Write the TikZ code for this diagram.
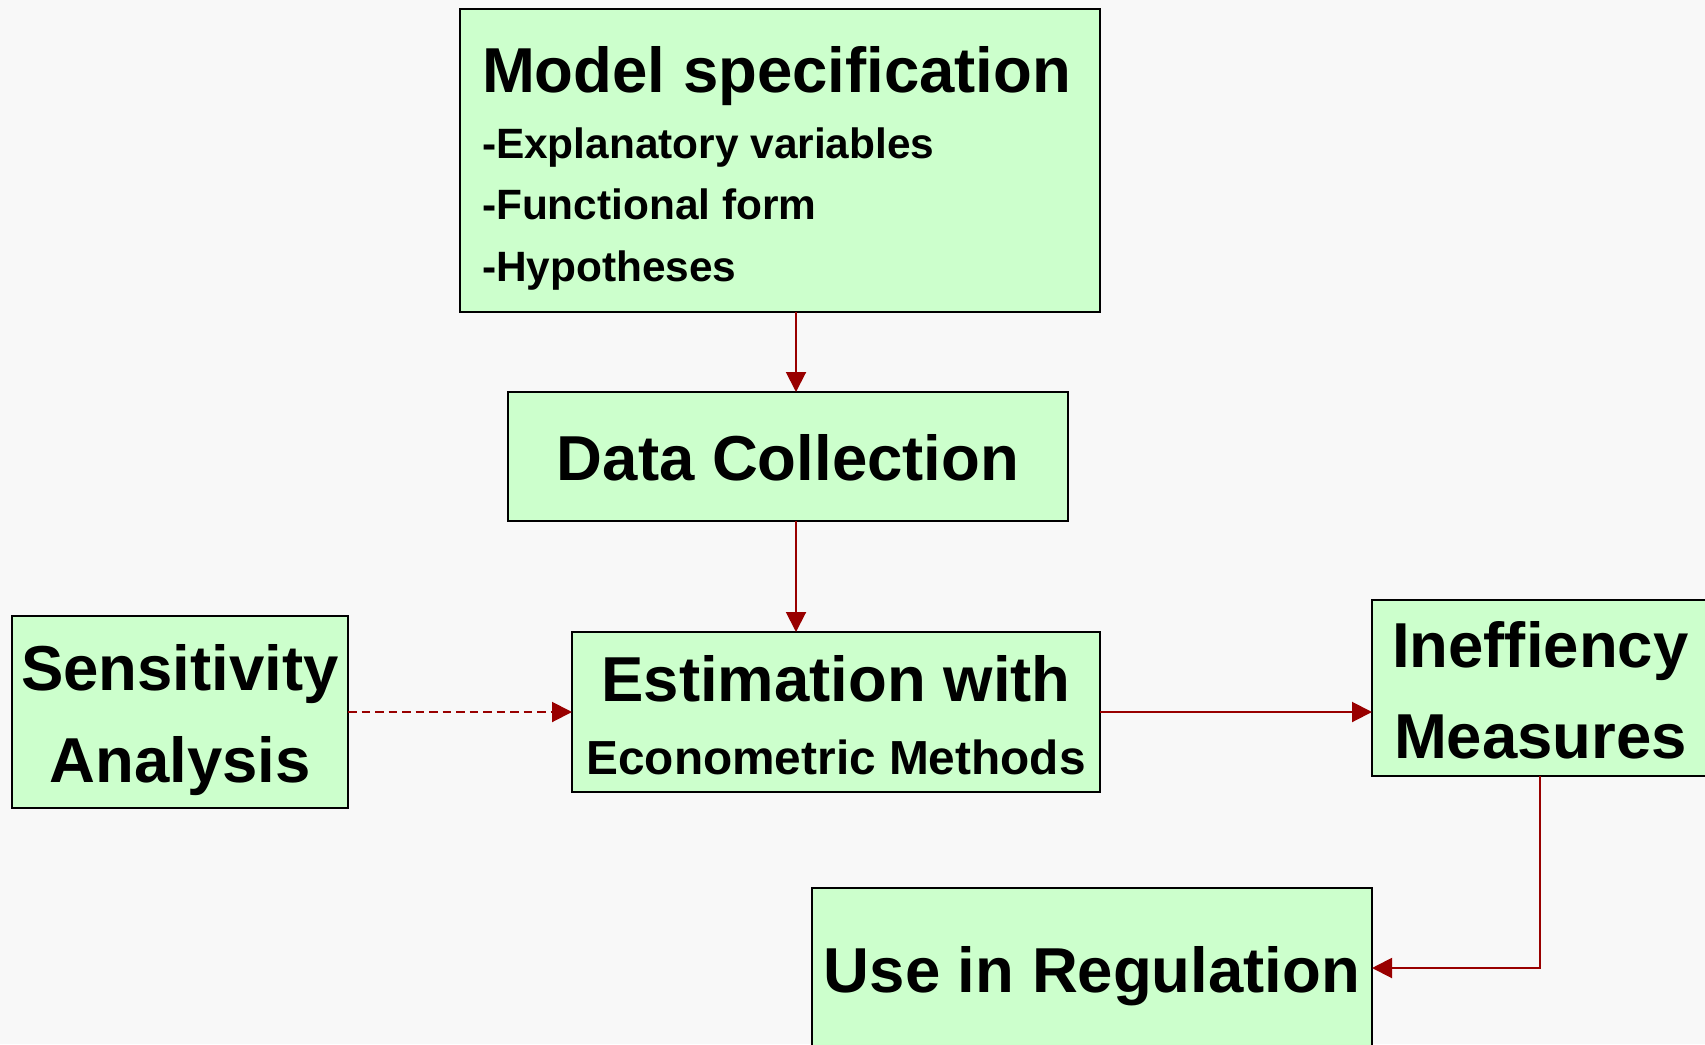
\documentclass[tikz,border=0pt]{standalone}
\usepackage{fontspec}
\setmainfont{Liberation Sans}
\usetikzlibrary{arrows.meta}
\definecolor{bgc}{HTML}{F8F8F8}
\definecolor{boxc}{HTML}{CCFFCC}
\definecolor{arc}{HTML}{990000}
\begin{document}
\begin{tikzpicture}[x=1pt,y=-1pt,
  box/.style={draw=black, line width=2pt, fill=boxc, inner sep=0pt, outer sep=0pt},
  bigtxt/.style={font=\fontsize{63.5}{70}\selectfont\bfseries, inner sep=0pt, outer sep=0pt},
  subtxt/.style={font=\fontsize{42.4}{48}\selectfont\bfseries, inner sep=0pt, outer sep=0pt, anchor=base west},
  midtxt/.style={font=\fontsize{47.8}{54}\selectfont\bfseries, inner sep=0pt, outer sep=0pt},
  conn/.style={draw=arc, line width=2pt, -{Triangle[length=20pt,width=20pt]}},
  dashconn/.style={conn, dash pattern=on 8.5pt off 5pt}
]
\useasboundingbox (0,0) rectangle (1705,1044);
\fill[bgc] (0,0) rectangle (1705,1044);
\clip (0,0) rectangle (1705,1044);

% boxes
\node[box, minimum width=640pt, minimum height=303.5pt] (model) at (780,160.25) {};
\node[box, minimum width=560pt, minimum height=128.5pt] (data) at (788,456.25) {};
\node[box, minimum width=528pt, minimum height=160pt] (est) at (836,712) {};
\node[box, minimum width=336pt, minimum height=192pt] (sens) at (180,712) {};
\node[box, minimum width=370pt, minimum height=176pt] (ineff) at (1557,688) {};
\node[box, minimum width=560pt, minimum height=212pt] (reg) at (1092,994) {};

% texts
\node[bigtxt, anchor=base west] (t1) at (482,92.4) {Model specification};
\node[subtxt] (t2) at (482,158.6) {-Explanatory variables};
\node[subtxt] (t3) at (482,219) {-Functional form};
\node[subtxt] (t4) at (482,281) {-Hypotheses};
\node[bigtxt, anchor=base] (t5) at (788,480) {Data Collection};
\node[bigtxt, anchor=base] (t6) at (836,701.7) {Estimation with};
\node[midtxt, anchor=base] (t7) at (836,774) {Econometric Methods};
\node[bigtxt, anchor=base] (t8) at (180,690) {Sensitivity};
\node[bigtxt, anchor=base] (t9) at (180,782) {Analysis};
\node[bigtxt, anchor=base west] (t10) at (1392,667) {Ineffiency};
\node[bigtxt, anchor=base west] (t11) at (1394,758) {Measures};
\node[bigtxt, anchor=base] (t12) at (1092,992) {Use in Regulation};

% connectors
\coordinate (xa) at (796,0);
\coordinate (bend) at (1540,968);
\draw[conn] (model.south -| xa) -- (data.north -| xa);
\draw[conn] (data.south -| xa) -- (est.north -| xa);
\draw[dashconn] (sens.east) -- (est.west);
\draw[conn] (est.east) -- (est.east -| ineff.west);
\draw[conn] (ineff.south -| bend) -- (bend) -- (reg.east |- bend);
\end{tikzpicture}
\end{document}
